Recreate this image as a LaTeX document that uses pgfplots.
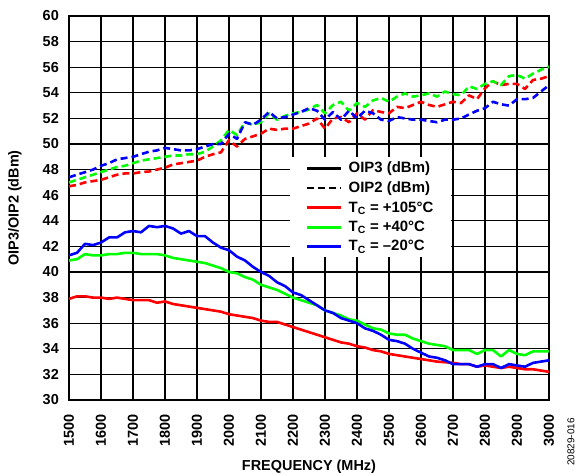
\documentclass[border=0pt]{standalone}
\usepackage{pgfplots}
\usepackage{pgfplotstable}
\pgfplotsset{compat=1.18}
\usepackage{fontspec}
\setmainfont{Liberation Sans}

\pgfplotstableread{
f    r3    g3    b3    r2    g2    b2
1500 37.9 40.9 41.3 46.7 47.0 47.4
1525 38.1 41.0 41.5 46.8 47.2 47.6
1550 38.1 41.4 42.2 47.0 47.4 47.8
1575 38.0 41.3 42.1 47.1 47.6 48.0
1600 38.0 41.3 42.3 47.2 47.8 48.3
1625 37.9 41.4 42.7 47.4 48.0 48.5
1650 38.0 41.4 42.7 47.6 48.2 48.8
1675 37.9 41.5 43.1 47.7 48.3 48.9
1700 37.8 41.5 43.2 47.7 48.5 49.0
1725 37.8 41.4 43.1 47.8 48.7 49.2
1750 37.8 41.4 43.6 47.85 48.8 49.4
1775 37.6 41.4 43.5 48.0 48.9 49.5
1800 37.7 41.3 43.6 48.15 49.0 49.7
1825 37.5 41.1 43.4 48.4 49.1 49.6
1850 37.4 41.0 43.0 48.5 49.1 49.5
1875 37.3 40.9 43.2 48.6 49.2 49.5
1900 37.2 40.8 42.8 48.7 49.2 49.6
1925 37.1 40.7 42.8 49.0 49.4 49.8
1950 37.0 40.5 42.3 49.2 49.8 50.0
1975 36.9 40.3 41.9 49.35 50.3 50.0
2000 36.7 40.0 41.7 50.3 51.1 50.8
2025 36.6 39.9 41.2 49.8 50.7 50.4
2050 36.5 39.6 40.9 50.4 51.7 51.7
2075 36.4 39.4 40.4 50.6 51.5 51.5
2100 36.2 39.0 40.0 50.8 51.7 51.9
2125 36.1 38.8 39.7 51.2 52.4 52.5
2150 36.1 38.6 39.2 51.1 51.9 52.0
2175 35.9 38.3 38.9 51.2 52.2 52.1
2200 35.7 38.0 38.4 51.2 52.4 52.3
2225 35.5 37.8 38.2 51.4 52.5 52.5
2250 35.3 37.6 37.8 51.6 52.7 52.8
2275 35.1 37.4 37.4 52.0 53.05 52.6
2300 34.9 37.0 37.0 51.2 52.4 51.9
2325 34.7 36.8 36.8 52.0 53.05 52.5
2350 34.5 36.6 36.4 52.1 53.3 51.9
2375 34.4 36.3 36.2 51.7 52.6 52.6
2400 34.2 36.2 36.0 52.4 53.2 52.0
2425 34.1 35.9 35.6 51.9 52.9 52.6
2450 33.9 35.6 35.4 52.65 53.4 52.4
2475 33.8 35.5 35.1 52.5 53.6 51.9
2500 33.6 35.2 34.7 52.4 53.3 51.8
2525 33.5 35.1 34.6 52.9 53.7 52.1
2550 33.4 35.1 34.4 52.8 53.95 52.0
2575 33.3 34.8 34.0 53.05 53.7 51.9
2600 33.2 34.6 33.7 53.3 53.8 51.9
2625 33.1 34.4 33.4 53.05 53.95 51.8
2650 33.0 34.3 33.3 52.9 53.7 51.7
2675 32.95 34.2 33.1 53.1 54.1 51.9
2700 32.9 33.9 32.8 53.3 53.9 51.9
2725 32.8 33.9 32.8 53.2 53.8 52.0
2750 32.8 33.9 32.8 53.8 54.5 52.3
2775 32.6 33.6 32.6 53.5 54.3 52.6
2800 32.7 33.9 32.8 54.35 54.7 52.8
2825 32.6 33.9 32.8 54.9 54.9 53.3
2850 32.5 33.4 32.5 54.6 54.6 53.1
2875 32.6 33.9 32.8 54.7 55.3 53.0
2900 32.5 33.6 32.7 54.7 55.4 53.5
2925 32.4 33.5 32.6 54.3 55.1 53.5
2950 32.4 33.8 32.9 55.0 55.5 53.6
2975 32.3 33.8 33.0 55.1 55.8 54.1
3000 32.2 33.8 33.1 55.3 56.05 54.6
}\datatable

\begin{document}
\begin{tikzpicture}
\begin{axis}[
  at={(0,0)}, anchor=south west,
  width=480bp, height=384bp, scale only axis,
  xmin=1500, xmax=3000, ymin=30, ymax=60,
  xtick={1500,1600,...,3000}, ytick={30,32,...,60},
  grid=major, major grid style={black, line width=1.2pt},
  axis line style={black, line width=1.6pt},
  major tick length=0pt,
  tick label style={font=\fontsize{14.5}{16}\selectfont\bfseries},
  /pgf/number format/assume math mode=true,
  /pgf/number format/set thousands separator={},
  xticklabel style={rotate=90, anchor=east, inner sep=0bp, xshift=-14bp},
  yticklabel style={anchor=east, inner sep=0bp, xshift=-10bp},
  xlabel={FREQUENCY (MHz)}, ylabel={OIP3/OIP2 (dBm)},
  label style={font=\fontsize{14.5}{16}\selectfont\bfseries},
  xlabel style={at={(axis description cs:0.5,0)}, anchor=center, yshift=-67bp},
  ylabel style={at={(axis description cs:-0.1125,0.5)}, anchor=center},
  legend style={at={(0.46,0.633)}, anchor=north west, draw=none, fill=white,
    font=\fontsize{15}{18}\selectfont\bfseries, row sep=3.5bp, inner xsep=16bp, inner ysep=3bp,
    cells={anchor=west}},
  legend image code/.code={\draw[#1, line width=2.8pt] (0bp,0bp) -- (34bp,0bp); \path (38bp,0bp);},
  every axis plot/.append style={line width=2.6pt, line join=round},
]
\addlegendimage{black}
\addlegendentry{OIP3 (dBm)}
\addlegendimage{black, dash pattern=on 7bp off 4bp}
\addlegendentry{OIP2 (dBm)}
\addlegendimage{red}
\addlegendentry{T\textsubscript{C} = +105°C}
\addlegendimage{green}
\addlegendentry{T\textsubscript{C} = +40°C}
\addlegendimage{blue}
\addlegendentry{T\textsubscript{C} = –20°C}

\addplot[red, forget plot] table[x=f, y=r3] {\datatable};
\addplot[green, forget plot] table[x=f, y=g3] {\datatable};
\addplot[blue, forget plot] table[x=f, y=b3] {\datatable};
\addplot[red, dash pattern=on 7bp off 4bp, forget plot] table[x=f, y=r2] {\datatable};
\addplot[green, dash pattern=on 7bp off 4bp, forget plot] table[x=f, y=g2] {\datatable};
\addplot[blue, dash pattern=on 7bp off 4bp, forget plot] table[x=f, y=b2] {\datatable};
\end{axis}
\node[rotate=90, font=\fontsize{10}{11}\selectfont, anchor=center] at (502bp,-42bp) {20829-016};
\pgfresetboundingbox
\path[use as bounding box] (-69bp,-76bp) rectangle (510bp,400bp);
\end{tikzpicture}
\end{document}
